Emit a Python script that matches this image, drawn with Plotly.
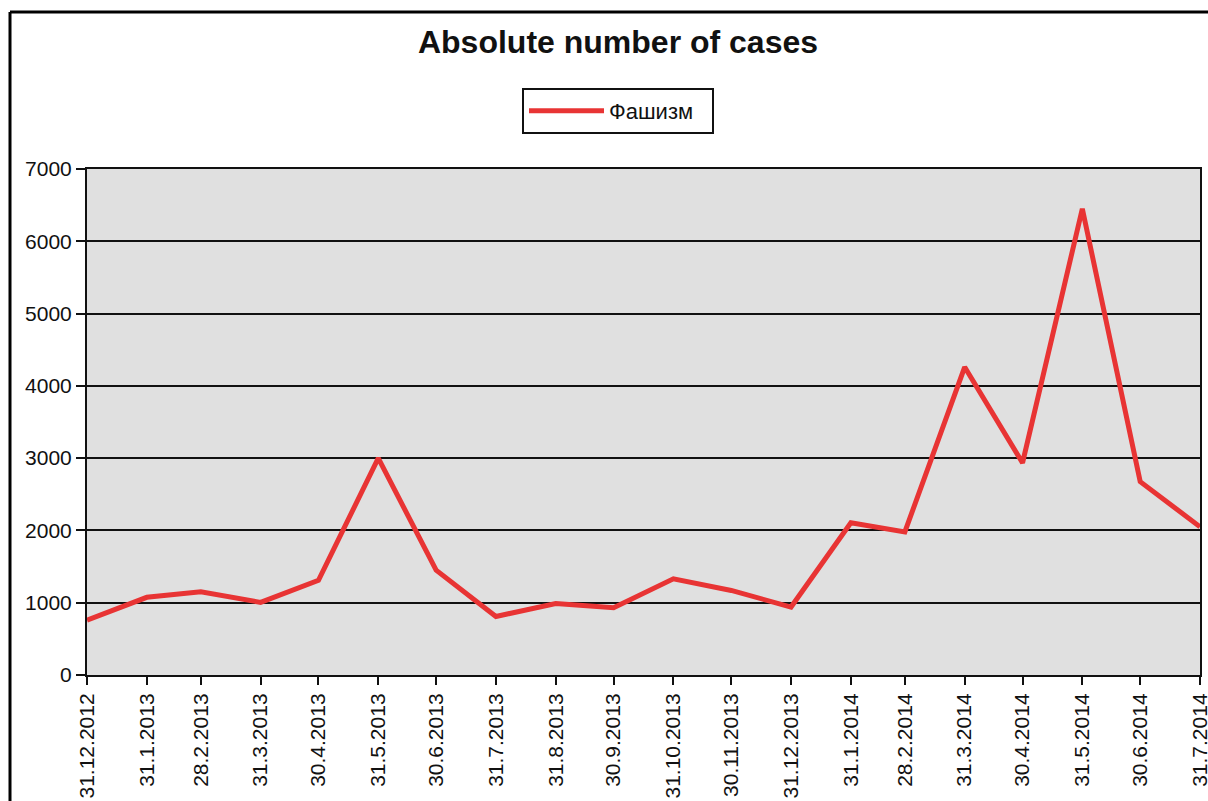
import plotly.graph_objects as go

# ---- data ----
dates = ["2012-12-31", "2013-01-31", "2013-02-28", "2013-03-31", "2013-04-30",
         "2013-05-31", "2013-06-30", "2013-07-31", "2013-08-31", "2013-09-30",
         "2013-10-31", "2013-11-30", "2013-12-31", "2014-01-31", "2014-02-28",
         "2014-03-31", "2014-04-30", "2014-05-31", "2014-06-30", "2014-07-31"]
values = [760, 1075, 1150, 1005, 1310,
          3000, 1450, 810, 990, 930,
          1330, 1170, 940, 2105, 1980,
          4260, 2935, 6450, 2675, 2050]
tick_labels = ["31.12.2012", "31.1.2013", "28.2.2013", "31.3.2013", "30.4.2013",
               "31.5.2013", "30.6.2013", "31.7.2013", "31.8.2013", "30.9.2013",
               "31.10.2013", "30.11.2013", "31.12.2013", "31.1.2014", "28.2.2014",
               "31.3.2014", "30.4.2014", "31.5.2014", "30.6.2014", "31.7.2014"]
series_name = "Фашизм"
title_text = "Absolute number of cases"

FONT = "Liberation Sans, Arial, sans-serif"
W, H = 1208, 801
L, R, T, B = 87, 8, 169, 126
pw, ph = W - L - R, H - T - B


def px_x(x):  # page pixel -> paper x
    return (x - L) / pw


def px_y(y):  # page pixel -> paper y
    return (H - B - y) / ph


fig = go.Figure()
fig.add_trace(go.Scatter(
    x=dates, y=values, mode="lines", name=series_name,
    line=dict(color="#e83434", width=5),
))

frame = dict(color="#000000", width=3)
fig.update_layout(
    width=W, height=H,
    margin=dict(l=L, r=R, t=T, b=B, autoexpand=False),
    paper_bgcolor="white",
    plot_bgcolor="#e0e0e0",
    font=dict(family=FONT, color="#111111", size=21),
    title=dict(text="<b>" + title_text + "</b>", x=618 / W, xanchor="center",
               y=1 - 42 / H, yanchor="middle",
               font=dict(family=FONT, size=32, color="#111111")),
    showlegend=True,
    legend=dict(
        orientation="h",
        x=px_x(522), xanchor="left",
        y=px_y(88), yanchor="top",
        bordercolor="#111111", borderwidth=2, bgcolor="white",
        font=dict(family=FONT, size=22, color="#111111"),
        itemwidth=75,
        entrywidth=98, entrywidthmode="pixels",
    ),
    xaxis=dict(
        type="date",
        range=[dates[0], dates[-1]],
        tickmode="array", tickvals=dates, ticktext=tick_labels,
        tickangle=-90,
        ticklabeloverflow="allow",
        ticks="outside", ticklen=8, tickwidth=2, tickcolor="#111111",
        showline=True, linecolor="#111111", linewidth=2, mirror=True,
        showgrid=False, zeroline=False,
        tickfont=dict(family=FONT, size=21, color="#111111"),
    ),
    yaxis=dict(
        range=[0, 7000], dtick=1000, tick0=0,
        ticks="outside", ticklen=9, tickwidth=2, tickcolor="#111111",
        showline=True, linecolor="#111111", linewidth=2, mirror=True,
        showgrid=True, gridcolor="#111111", gridwidth=2,
        zeroline=False,
        tickfont=dict(family=FONT, size=21, color="#111111"),
    ),
    shapes=[
        dict(type="line", xref="paper", yref="paper",
             x0=px_x(10), x1=px_x(1212), y0=px_y(12), y1=px_y(12), line=frame),
        dict(type="line", xref="paper", yref="paper",
             x0=px_x(10), x1=px_x(10), y0=px_y(12), y1=px_y(805), line=frame),
    ],
)

fig.write_html(
    "out.html",
    config={"displayModeBar": False},
    post_script="document.documentElement.style.overflow='hidden';"
                "document.body.style.overflow='hidden';"
                "document.body.style.margin='0';",
)
